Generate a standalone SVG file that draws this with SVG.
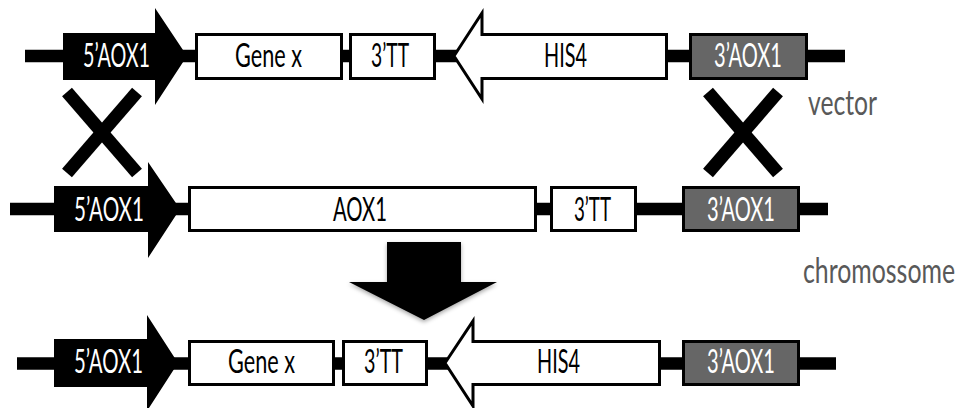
<svg xmlns="http://www.w3.org/2000/svg" width="964" height="408" viewBox="0 0 964 408">
  <defs>
    <style>
      .lbl { font-family: Lato, "Open Sans", "Liberation Sans", sans-serif; font-size: 32px; }
      .dark { fill: #000; }
      .light { fill: #fff; }
      .box { fill: #fff; stroke: #000; stroke-width: 3; }
      .grey { fill: #666; stroke: #000; stroke-width: 3; }
      .solid { fill: #000; }
      .hollow { fill: #fff; stroke: #000; stroke-width: 3; stroke-linejoin: miter; }
      .dna { stroke: #000; stroke-width: 12.5; fill: none; }
      .cross { stroke: #000; stroke-width: 13; stroke-linecap: butt; fill: none; }
      .side { font-family: Lato, "Open Sans", "Liberation Sans", sans-serif; font-size: 35px; fill: #595959; }
    </style>
    <filter id="shade" x="-20%" y="-20%" width="140%" height="150%">
      <feDropShadow dx="0" dy="2" stdDeviation="2" flood-color="#000" flood-opacity="0.35"/>
    </filter>
  </defs>
  <rect width="964" height="408" fill="#fff"/>

  <!-- DNA backbones and crossover marks -->
  <g id="connectors">
    <line class="dna" x1="25" y1="56" x2="845" y2="56"/>
    <line class="dna" x1="10" y1="209" x2="828" y2="209"/>
    <line class="dna" x1="17" y1="363.5" x2="836" y2="363.5"/>
    <line class="cross" x1="67" y1="92" x2="137" y2="173"/>
    <line class="cross" x1="137" y1="92" x2="67" y2="173"/>
    <line class="cross" x1="708" y1="92" x2="778" y2="173"/>
    <line class="cross" x1="778" y1="92" x2="708" y2="173"/>
    <polygon id="result-arrow" class="solid" filter="url(#shade)" points="387,242 461,242 461,282 497,282 424,320 349,282 387,282"/>
  </g>

  <!-- vector -->
  <g id="v-5aox1">
    <polygon class="solid" points="63,33 155,33 155,8 187,56 155,105 155,80 63,80"/>
    <text class="lbl light" x="83" y="67" textLength="67" lengthAdjust="spacingAndGlyphs">5’AOX1</text>
  </g>
  <g id="v-genex">
    <rect class="box" x="196.5" y="34.5" width="145" height="44"/>
    <text class="lbl dark" x="235" y="67" textLength="67" lengthAdjust="spacingAndGlyphs">Gene x</text>
  </g>
  <g id="v-3tt">
    <rect class="box" x="350.5" y="34.5" width="84" height="44"/>
    <text class="lbl dark" x="371" y="67" textLength="38" lengthAdjust="spacingAndGlyphs">3’TT</text>
  </g>
  <g id="v-his4">
    <polygon class="hollow" points="454,56 482,13 482,34.5 666.5,34.5 666.5,78.5 482,78.5 482,99"/>
    <text class="lbl dark" x="544" y="67" textLength="43" lengthAdjust="spacingAndGlyphs">HIS4</text>
  </g>
  <g id="v-3aox1">
    <rect class="grey" x="690.5" y="34.5" width="116" height="44"/>
    <text class="lbl light" x="714" y="67" textLength="68" lengthAdjust="spacingAndGlyphs">3’AOX1</text>
  </g>
  <text class="side" transform="translate(808 115) scale(0.75 1)" x="0" y="0" textLength="92" lengthAdjust="spacingAndGlyphs">vector</text>

  <!-- chromosome -->
  <g id="c-5aox1">
    <polygon class="solid" points="54,186 148,186 148,162 180,209 148,258 148,232 54,232"/>
    <text class="lbl light" x="74" y="221" textLength="70" lengthAdjust="spacingAndGlyphs">5’AOX1</text>
  </g>
  <g id="c-aox1">
    <rect class="box" x="189.5" y="187.5" width="346" height="43"/>
    <text class="lbl dark" x="333" y="221" textLength="54" lengthAdjust="spacingAndGlyphs">AOX1</text>
  </g>
  <g id="c-3tt">
    <rect class="box" x="551.5" y="187.5" width="84" height="43"/>
    <text class="lbl dark" x="574" y="221" textLength="37" lengthAdjust="spacingAndGlyphs">3’TT</text>
  </g>
  <g id="c-3aox1">
    <rect class="grey" x="683.5" y="187.5" width="115" height="43"/>
    <text class="lbl light" x="707" y="221" textLength="68" lengthAdjust="spacingAndGlyphs">3’AOX1</text>
  </g>
  <text class="side" transform="translate(803 283) scale(0.75 1)" x="0" y="0" textLength="202.7" lengthAdjust="spacingAndGlyphs">chromossome</text>

  <!-- integrated locus -->
  <g id="r-5aox1">
    <polygon class="solid" points="54,339 147,339 147,315 178,363 147,411 147,387 54,387"/>
    <text class="lbl light" x="74" y="373" textLength="69" lengthAdjust="spacingAndGlyphs">5’AOX1</text>
  </g>
  <g id="r-genex">
    <rect class="box" x="189.5" y="341.5" width="144" height="43"/>
    <text class="lbl dark" x="228" y="373" textLength="67" lengthAdjust="spacingAndGlyphs">Gene x</text>
  </g>
  <g id="r-3tt">
    <rect class="box" x="343.5" y="341.5" width="83" height="43"/>
    <text class="lbl dark" x="364" y="373" textLength="39" lengthAdjust="spacingAndGlyphs">3’TT</text>
  </g>
  <g id="r-his4">
    <polygon class="hollow" points="445,363 473,321 473,341.5 659.5,341.5 659.5,384.5 473,384.5 473,406"/>
    <text class="lbl dark" x="537" y="373" textLength="43" lengthAdjust="spacingAndGlyphs">HIS4</text>
  </g>
  <g id="r-3aox1">
    <rect class="grey" x="683.5" y="341.5" width="115" height="43"/>
    <text class="lbl light" x="707" y="373" textLength="68" lengthAdjust="spacingAndGlyphs">3’AOX1</text>
  </g>
</svg>
